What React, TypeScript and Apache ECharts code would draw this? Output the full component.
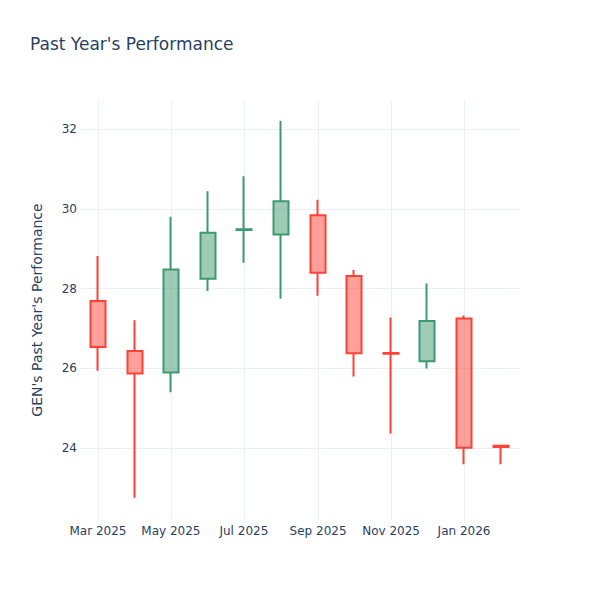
import React, { useEffect, useRef } from "react";
import * as echarts from "echarts";

// Monthly OHLC for GEN (first trading month stamp)
const months = [
  "2025-03-01", "2025-04-01", "2025-05-01", "2025-06-01",
  "2025-07-01", "2025-08-01", "2025-09-01", "2025-10-01",
  "2025-11-01", "2025-12-01", "2026-01-01", "2026-02-01",
];
const opens = [27.69, 26.44, 25.9, 28.25, 29.47, 29.36, 29.84, 28.32, 26.39, 26.18, 27.25, 24.06];
const closes = [26.54, 25.87, 28.48, 29.4, 29.49, 30.19, 28.4, 26.38, 26.37, 27.19, 24.01, 24.03];
const lows = [25.94, 22.76, 25.4, 27.94, 28.65, 27.75, 27.82, 25.8, 24.37, 26.0, 23.6, 23.6];
const highs = [28.82, 27.21, 29.8, 30.44, 30.82, 32.21, 30.23, 28.47, 27.28, 28.13, 27.33, 24.06];

const yTicks = [24, 26, 28, 30, 32];
const xTicks = ["2025-03-01", "2025-05-01", "2025-07-01", "2025-09-01", "2025-11-01", "2026-01-01"];

const toTime = (s: string): number => {
  const [y, m, d] = s.split("-").map(Number);
  return new Date(y, m - 1, d).getTime();
};

const TEXT = "#2a3f5f";
const GRID = "#EBF0F8";
const UP = "#3D9970";
const DOWN = "#FF4136";
const FONT = "DejaVu Sans, Verdana, sans-serif";

export default function App() {
  const ref = useRef<HTMLDivElement>(null);

  useEffect(() => {
    if (!ref.current) return;
    const chart = echarts.init(ref.current, null, { renderer: "svg" });

    const data = months.map((m, i) => [toTime(m), opens[i], closes[i], lows[i], highs[i]]);
    const xTickTimes = xTicks.map(toTime);

    chart.setOption({
      animation: false,
      backgroundColor: "#fff",
      textStyle: { fontFamily: FONT },
      title: {
        text: "Past Year's Performance",
        left: 30,
        top: 35,
        padding: 0,
        textStyle: { color: TEXT, fontSize: 17, fontWeight: "normal", fontFamily: FONT },
      },
      grid: { left: 80, right: 80, top: 100, bottom: 80, containLabel: false },
      xAxis: {
        type: "time",
        min: new Date(2025, 1, 14).getTime(),
        max: new Date(2026, 1, 16, 19).getTime(),
        axisLine: { show: false },
        axisTick: { show: false, customValues: xTickTimes },
        axisLabel: {
          customValues: xTickTimes,
          formatter: "{MMM} {yyyy}",
          color: TEXT,
          fontSize: 12,
          fontFamily: FONT,
          margin: 5,
          hideOverlap: false,
        },
        splitLine: { show: true, lineStyle: { color: GRID, width: 1 } },
      },
      yAxis: {
        type: "value",
        min: 22.2,
        max: 32.73,
        name: "GEN's Past Year's Performance",
        nameLocation: "middle",
        nameGap: 36,
        nameTextStyle: { color: TEXT, fontSize: 14, fontFamily: FONT },
        axisLine: { show: false },
        axisTick: { show: false, customValues: yTicks },
        axisLabel: {
          customValues: yTicks,
          color: TEXT,
          fontSize: 12,
          fontFamily: FONT,
          margin: 3,
        },
        splitLine: { show: true, lineStyle: { color: GRID, width: 1 } },
      },
      series: [
        {
          type: "candlestick",
          data,
          barWidth: 16,
          itemStyle: {
            color: "rgba(61,153,112,0.5)",
            color0: "rgba(255,65,54,0.5)",
            borderColor: UP,
            borderColor0: DOWN,
            borderWidth: 2,
          },
        },
      ],
    });

    return () => chart.dispose();
  }, []);

  return (
    <div
      ref={ref}
      style={{ position: "fixed", left: 0, top: 0, width: 600, height: 600 }}
    />
  );
}
